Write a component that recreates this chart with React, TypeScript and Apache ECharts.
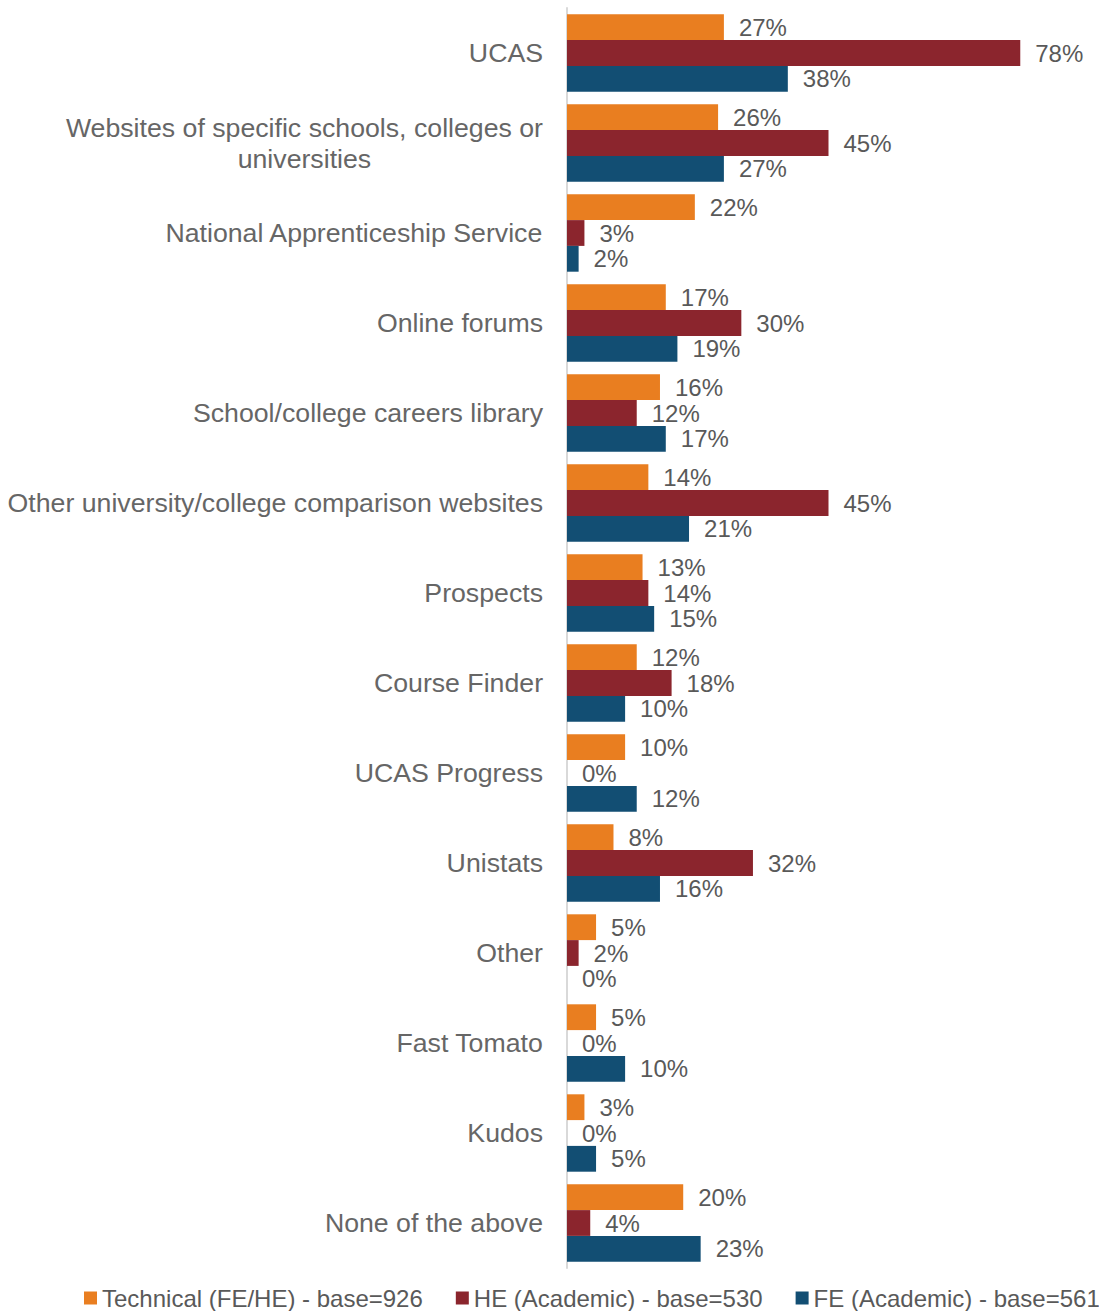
import React, { useEffect, useRef } from "react";
import * as echarts from "echarts";

const categories = [
  "UCAS",
  "Websites of specific schools, colleges or\nuniversities",
  "National Apprenticeship Service",
  "Online forums",
  "School/college careers library",
  "Other university/college comparison websites",
  "Prospects",
  "Course Finder",
  "UCAS Progress",
  "Unistats",
  "Other",
  "Fast Tomato",
  "Kudos",
  "None of the above",
];

const technical = [27, 26, 22, 17, 16, 14, 13, 12, 10, 8, 5, 5, 3, 20];
const heAcademic = [78, 45, 3, 30, 12, 45, 14, 18, 0, 32, 2, 0, 0, 4];
const feAcademic = [38, 27, 2, 19, 17, 21, 15, 10, 12, 16, 0, 10, 5, 23];

const seriesNames = [
  "Technical (FE/HE) - base=926",
  "HE (Academic) - base=530",
  "FE (Academic) - base=561",
];
const colors = ["#E97E20", "#8B252D", "#124E73"];

export default function App() {
  const ref = useRef<HTMLDivElement>(null);
  useEffect(() => {
    const chart = echarts.init(ref.current!, null, { renderer: "svg" });
    const font = "'Liberation Sans', Arial, sans-serif";
    const mk = (name: string, data: number[], color: string) => ({
      name,
      type: "bar",
      data,
      barCategoryGap: "14%",
      barGap: "0%",
      itemStyle: { color },
      label: {
        show: true,
        position: "right",
        distance: 15,
        formatter: "{c}%",
        color: "#595959",
        fontSize: 24,
        fontFamily: font,
      },
    });
    chart.setOption({
      animation: false,
      textStyle: { fontFamily: font },
      grid: { left: 567, right: 9, top: 8, bottom: 43, containLabel: false },
      legend: {
        top: 1286,
        left: 84,
        width: 1060,
        padding: 0,
        itemWidth: 13,
        itemHeight: 13,
        itemGap: 33,
        icon: "rect",
        textStyle: { color: "#595959", fontSize: 24, fontFamily: font },
        data: seriesNames,
      },
      xAxis: { type: "value", min: 0, max: 90, show: false },
      yAxis: {
        type: "category",
        data: categories,
        inverse: true,
        axisLine: { show: true, lineStyle: { color: "#D9D9D9", width: 2 } },
        axisTick: { show: false },
        axisLabel: {
          margin: 24,
          color: "#666666",
          fontSize: 26.7,
          fontFamily: font,
          lineHeight: 31,
          formatter: (v: string) =>
            v
              .split("\n")
              .map((l) => `{a|${l}}`)
              .join("\n"),
          rich: { a: { align: "center", fontSize: 26.7, color: "#666666", lineHeight: 31, fontFamily: font } },
        },
      },
      series: [
        mk(seriesNames[0], technical, colors[0]),
        mk(seriesNames[1], heAcademic, colors[1]),
        mk(seriesNames[2], feAcademic, colors[2]),
      ],
    });
    return () => chart.dispose();
  }, []);
  return (
    <div
      ref={ref}
      style={{ position: "absolute", left: 0, top: 0, width: 1099, height: 1311, background: "#fff" }}
    />
  );
}
